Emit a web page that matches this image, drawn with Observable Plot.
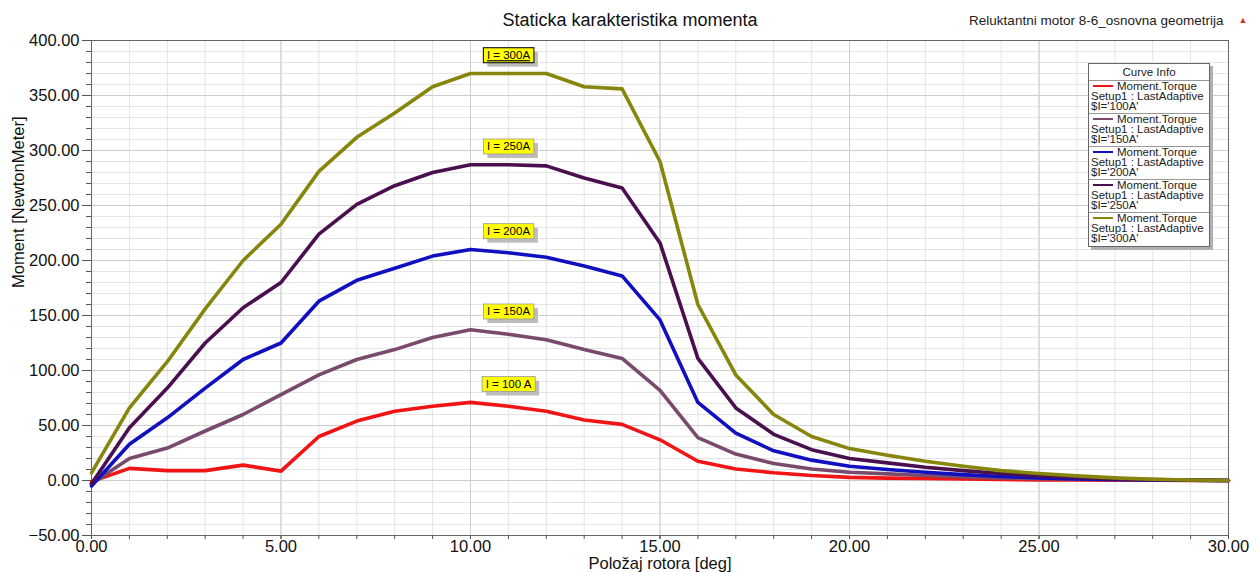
<!DOCTYPE html>
<html>
<head>
<meta charset="utf-8">
<script src="https://cdn.jsdelivr.net/npm/d3@7"></script>
<script src="https://cdn.jsdelivr.net/npm/@observablehq/plot@0.6"></script>
<style>
  html, body { margin: 0; padding: 0; background: #fff; }
  #wrap { position: relative; width: 1260px; height: 572px; font-family: "Liberation Sans", Arial, sans-serif; }
  #legend { position: absolute; left: 1088px; top: 63px; width: 122px; background: #fff;
            border: 1px solid #666; box-shadow: 3px 3px 0 #b0b0b0; color: #222;
            font-size: 11.5px; box-sizing: border-box; }
  #legend .hdr { text-align: center; height: 16px; line-height: 16px; border-bottom: 1px solid #999; }
  #legend .entry { height: 33px; border-bottom: 1px solid #999; padding-left: 2px; padding-top: 1px; box-sizing: border-box; line-height: 9.8px; white-space: nowrap; overflow: hidden; }
  #legend .entry:last-child { border-bottom: none; }
  #legend .sw { display: inline-block; width: 20px; height: 2px; vertical-align: middle; margin: 0 4px 2px 2px; }
</style>
</head>
<body>
<div id="wrap"></div>
<script>
// ---- data ----
const angles = [0,1,2,3,4,5,6,7,8,9,10,11,12,13,14,15,16,17,18,19,20,21,22,23,24,25,26,27,28,29,30];
const I100 = [-1,11,9,9,14,8.5,40,54,63,67.5,71,67.5,63,55,51,37,17.5,10.5,7,4.5,2.8,2.2,1.8,1.3,0.9,0.6,0.4,0.3,0.2,0.1,0];
const I150 = [-3,20,29.5,45,60,78,96,110,119,130,137,133,128,119,111,82,39,24,15.5,10.5,7.5,6,4.5,3.3,2.3,1.6,1.1,0.7,0.4,0.2,0];
const I200 = [-5,33,57,84,110,125,163,182,193,204,210,207,203,195,186,146,71,43,27,18.5,13,10,7.5,5.3,3.6,2.4,1.5,0.9,0.5,0.2,0];
const I250 = [-3,48,84,125,157,180,224,251,268,280,287,287,286,275,266,216,111,66,42,28,20,16,12,9,6.4,4.2,2.7,1.5,0.8,0.3,0];
const I300 = [7,66,108,156,200,233,281,312,334,358,370,370,370,358,356,290,160,96,60,40,29,23,17.5,13,9,6.3,4.2,2.4,1.2,0.5,0];
const seriesNames = ["100A","150A","200A","250A","300A"];
const seriesValues = [I100, I150, I200, I250, I300];
const seriesColors = ["#f01414","#7a4a6c","#1010c0","#4a0f4e","#86860c"];
const curveLabels = ["I = 100 A","I = 150A","I = 200A","I = 250A","I = 300A"];
const xMajorTicks = [0,5,10,15,20,25,30];
const xMinorTicks = angles;
const yMajorTicks = [-50,0,50,100,150,200,250,300,350,400];
const yMinorTicks = [-50,-40,-30,-20,-10,0,10,20,30,40,50,60,70,80,90,100,110,120,130,140,150,160,170,180,190,200,210,220,230,240,250,260,270,280,290,300,310,320,330,340,350,360,370,380,390,400];
const titleText = "Staticka karakteristika momenta";
const subtitleText = "Reluktantni motor 8-6_osnovna geometrija";
const xLabel = "Položaj rotora [deg]";
const yLabel = "Moment [NewtonMeter]";

// ---- tables ----
const rows = [];
seriesNames.forEach((s, i) => angles.forEach((a, j) => rows.push({series: s, angle: a, torque: seriesValues[i][j]})));
const labelRows = seriesNames.map((s, i) => {
  const v = seriesValues[i];
  const k = d3.maxIndex(v);
  return {series: s, angle: angles[k], torque: v[k], text: curveLabels[i]};
});

const fmt = d3.format(".2f");
const font = '"Liberation Sans", Arial, sans-serif';

const chart = Plot.plot({
  width: 1260, height: 572,
  marginLeft: 91, marginRight: 32, marginTop: 40, marginBottom: 37,
  x: {domain: [0, 30], axis: null},
  y: {domain: [-50, 400], axis: null},
  color: {domain: seriesNames, range: seriesColors},
  style: {fontFamily: font, background: "#fff", color: "#111", overflow: "visible"},
  marks: [
    Plot.gridX(xMinorTicks, {stroke: "#e4e4e4", strokeOpacity: 1}),
    Plot.gridY(yMinorTicks, {stroke: "#e4e4e4", strokeOpacity: 1}),
    Plot.gridX(xMajorTicks, {stroke: "#cdcdcd", strokeOpacity: 1}),
    Plot.gridY(yMajorTicks, {stroke: "#cdcdcd", strokeOpacity: 1}),
    Plot.axisY(yMinorTicks, {tickSize: 5, text: null, stroke: "#555", label: null}),
    Plot.axisY(yMajorTicks, {tickSize: 9, tickPadding: 3, tickFormat: fmt, fontSize: 16.5, stroke: "#555", label: null}),
    Plot.axisX(xMinorTicks, {tickSize: 4, text: null, stroke: "#555", label: null}),
    Plot.axisX(xMajorTicks, {tickSize: 4, tickPadding: 1, tickFormat: fmt, fontSize: 16.5, stroke: "#555", label: null}),
    Plot.frame({stroke: "#666"}),
    Plot.line(rows, {x: "angle", y: "torque", stroke: "series", z: "series", strokeWidth: 3.6, strokeLinejoin: "round", strokeLinecap: "round"}),
    Plot.text(labelRows, {x: "angle", y: "torque", text: "text", dx: 38, dy: -18, fontSize: 11.5, fill: "#000"}),
    Plot.text([titleText], {text: d => d, frameAnchor: "top", lineAnchor: "middle", dy: -20, dx: -30, fontSize: 18, fill: "#111"}),
    Plot.text([subtitleText], {text: d => d, frameAnchor: "top-right", lineAnchor: "middle", textAnchor: "end", dy: -20, dx: -5, fontSize: 13.5, fill: "#222"}),
    Plot.text(["▲"], {text: d => d, frameAnchor: "top-right", lineAnchor: "middle", dy: -20, dx: 19, fontSize: 9, fill: "#d03030"}),
    Plot.text([xLabel], {text: d => d, frameAnchor: "bottom", lineAnchor: "middle", dy: 28, fontSize: 16.5, fill: "#111"}),
    Plot.text([yLabel], {text: d => d, frameAnchor: "left", lineAnchor: "middle", dx: -73, rotate: -90, fontSize: 16.5, fill: "#111"})
  ]
});

const wrap = document.getElementById("wrap");
wrap.appendChild(chart);

// yellow label boxes
const ns = "http://www.w3.org/2000/svg";
chart.querySelectorAll("text").forEach(t => {
  if (!t.textContent.startsWith("I = ")) return;
  const b = t.getBBox();
  const g = t.parentNode;
  const tr = t.getAttribute("transform");
  const padX = 3.5, padY = 1.5;
  const mk = (dx, dy, fill) => {
    const r = document.createElementNS(ns, "rect");
    r.setAttribute("x", b.x - padX + dx); r.setAttribute("y", b.y - padY + dy);
    r.setAttribute("width", b.width + 2 * padX); r.setAttribute("height", b.height + 2 * padY);
    r.setAttribute("fill", fill);
    if (tr) r.setAttribute("transform", tr);
    return r;
  };
  const sh = mk(4, 4, "#bdbdbd");
  const r = mk(0, 0, "#ffff00");
  const top = t.textContent === curveLabels[curveLabels.length - 1];
  r.setAttribute("stroke", top ? "#222" : "#999");
  r.setAttribute("stroke-width", top ? 1.2 : 0.8);
  if (top) t.setAttribute("text-decoration", "underline");
  g.insertBefore(sh, t);
  g.insertBefore(r, t);
});

// legend
const legend = document.createElement("div");
legend.id = "legend";
legend.innerHTML = '<div class="hdr">Curve Info</div>' + seriesNames.map((s, i) =>
  `<div class="entry"><div><span class="sw" style="background:${seriesColors[i]}"></span>Moment.Torque</div>` +
  `<div>Setup1 : LastAdaptive</div><div>$I='${s}'</div></div>`).join("");
wrap.appendChild(legend);
</script>
</body>
</html>
